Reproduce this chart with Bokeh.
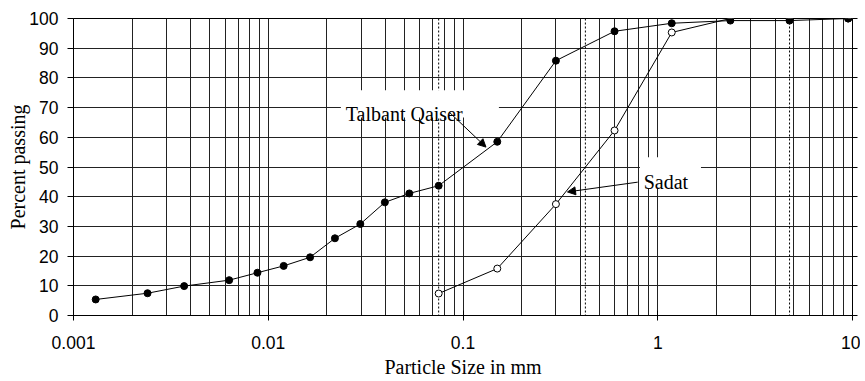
from bokeh.plotting import figure
from bokeh.models import (FixedTicker, LinearAxis, BoxAnnotation, Arrow, NormalHead,
                          Label, Range1d, Span, CustomJSTickFormatter)
from bokeh.embed import file_html
from bokeh.resources import INLINE

# ---- data ----
tq_size = [0.0013, 0.0024, 0.0037, 0.0063, 0.0088, 0.012, 0.0164, 0.022, 0.0297,
           0.0397, 0.053, 0.075, 0.15, 0.3, 0.6, 1.18, 2.36, 4.75, 9.5]
tq_pass = [5.4, 7.5, 9.9, 11.9, 14.4, 16.7, 19.6, 26.0, 30.8,
           38.1, 41.1, 43.7, 58.5, 85.8, 95.7, 98.4, 99.3, 99.3, 100]
sd_size = [0.075, 0.15, 0.3, 0.6, 1.18, 2.36, 4.75, 9.5]
sd_pass = [7.4, 15.8, 37.5, 62.3, 95.3, 100, 100, 100]

x_ticks = [0.001, 0.01, 0.1, 1, 10]
x_minor = [m * d for d in [0.001, 0.01, 0.1, 1] for m in range(2, 10)]
y_ticks = [0, 10, 20, 30, 40, 50, 60, 70, 80, 90, 100]
sieve_lines = [0.075, 0.425, 4.75]

GRID = "#222222"
SANS = "Liberation Sans"
SERIF = "Liberation Serif"

p = figure(x_axis_type="log", x_range=Range1d(0.001, 10), y_range=Range1d(0, 100),
           frame_width=779, frame_height=297,
           min_border_left=73, min_border_right=8, min_border_top=18, min_border_bottom=55,
           output_backend="svg", toolbar_location=None)
p.outline_line_color = "black"
p.background_fill_color = "white"
p.border_fill_color = "white"

# x axis
p.xaxis.ticker = FixedTicker(ticks=x_ticks, minor_ticks=x_minor)
p.xaxis.formatter = CustomJSTickFormatter(code="return tick.toString();")
p.xaxis.major_tick_in = 5
p.xaxis.major_tick_out = 5
p.xaxis.minor_tick_line_color = None
p.xaxis.axis_line_color = "black"
p.xaxis.major_tick_line_color = "black"
p.xaxis.major_label_text_font = SANS
p.xaxis.major_label_text_font_size = "17.5px"
p.xaxis.major_label_text_color = "black"
p.xaxis.major_label_standoff = 15
p.xaxis.axis_label = "Particle Size in mm"
p.xaxis.axis_label_text_font = SERIF
p.xaxis.axis_label_text_font_size = "20px"
p.xaxis.axis_label_text_font_style = "normal"
p.xaxis.axis_label_text_color = "black"
p.xaxis.axis_label_standoff = 4

# y axis
p.yaxis.ticker = FixedTicker(ticks=y_ticks)
p.yaxis.major_tick_in = 0
p.yaxis.major_tick_out = 6
p.yaxis.minor_tick_line_color = None
p.yaxis.axis_line_color = "black"
p.yaxis.major_tick_line_color = "black"
p.yaxis.major_label_text_font = SANS
p.yaxis.major_label_text_font_size = "17.5px"
p.yaxis.major_label_text_color = "black"
p.yaxis.major_label_standoff = 9
p.yaxis.axis_label = "Percent passing"
p.yaxis.axis_label_text_font = SERIF
p.yaxis.axis_label_text_font_size = "20px"
p.yaxis.axis_label_text_font_style = "normal"
p.yaxis.axis_label_text_color = "black"
p.yaxis.axis_label_standoff = -3

ry = LinearAxis(ticker=FixedTicker(ticks=y_ticks),
                formatter=CustomJSTickFormatter(code="return '';"),
                major_label_standoff=0, axis_line_color=None, major_tick_out=5,
                major_tick_in=0, minor_tick_line_color=None, major_tick_line_color="black")
p.add_layout(ry, "right")

# grids
p.xgrid.grid_line_color = GRID
p.xgrid.minor_grid_line_color = GRID
p.ygrid.grid_line_color = GRID
p.ygrid.minor_grid_line_color = None

for s in sieve_lines:
    p.add_layout(Span(location=s, dimension="height", line_color="black",
                      line_dash="2 2", line_width=1, level="underlay"))

# white boxes behind labels
p.add_layout(BoxAnnotation(left=0.0236, right=0.1529, bottom=66.7, top=75.8,
                           fill_color="white", fill_alpha=1, line_color=None))
p.add_layout(BoxAnnotation(left=0.81, right=1.667, bottom=42.8, top=53.3,
                           fill_color="white", fill_alpha=1, line_color=None))

# series
p.line(sd_size, sd_pass, line_color="black", line_width=1)
p.scatter(sd_size, sd_pass, size=7, marker="circle", fill_color="white",
          line_color="black", line_width=1)
p.line(tq_size, tq_pass, line_color="black", line_width=1)
p.scatter(tq_size, tq_pass, size=7, marker="circle", fill_color="black",
          line_color="black", line_width=1)

# arrows and labels
p.add_layout(Arrow(x_start=0.0849, y_start=68.5, x_end=0.1312, y_end=56.7,
                   line_color="black", line_width=1,
                   end=NormalHead(size=8, fill_color="black", line_color="black")))
p.add_layout(Arrow(x_start=0.789, y_start=44.9, x_end=0.344, y_end=41.6,
                   line_color="black", line_width=1,
                   end=NormalHead(size=8, fill_color="black", line_color="black")))
p.add_layout(Label(x=0.025, y=68.0, text="Talbant Qaiser", text_font=SERIF,
                   text_font_size="20px", text_color="black", text_baseline="alphabetic"))
p.add_layout(Label(x=0.8465, y=44.9, text="Sadat", text_font=SERIF,
                   text_font_size="20px", text_color="black", text_baseline="alphabetic"))

open("out.html", "w").write(file_html(p, INLINE))
